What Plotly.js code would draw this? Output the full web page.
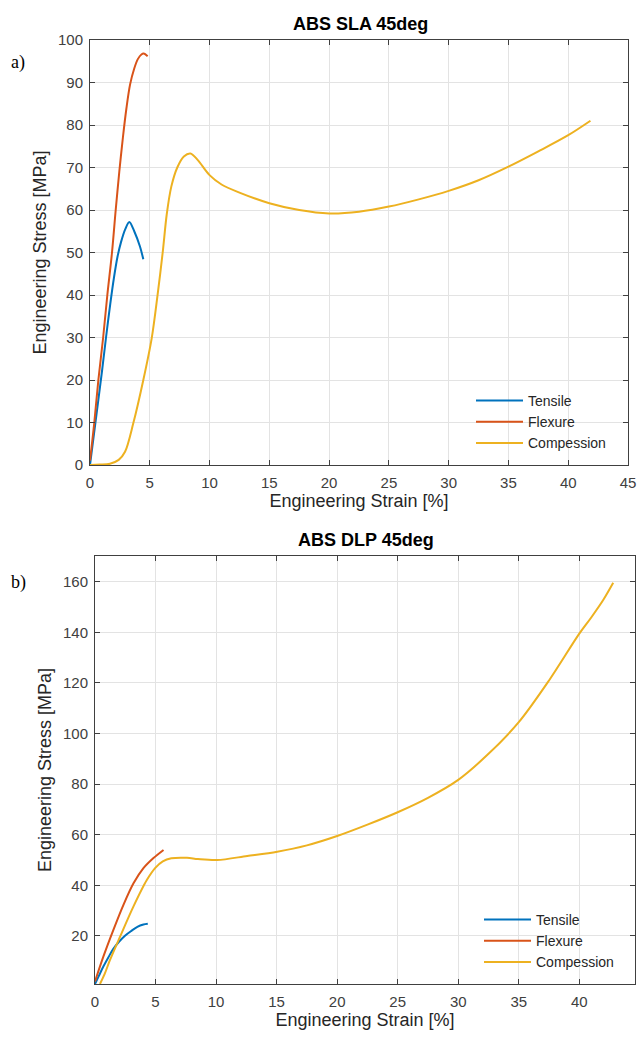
<!DOCTYPE html>
<html>
<head>
<meta charset="utf-8">
<script src="https://cdn.plot.ly/plotly-3.0.1.min.js"></script>
<style>html,body{margin:0;padding:0;background:#fff;}#chart{width:639px;height:1037px;}</style>
</head>
<body>
<div id="chart"></div>
<script>
// ---- Data: (a) ABS SLA 45deg ----
const slaTensileX = [0, 0.5, 1, 1.34, 1.7, 2.0, 2.3, 2.6, 2.95, 3.29, 3.7, 4.18, 4.46];
const slaTensileY = [0, 11, 22, 30, 38, 44, 49, 52.5, 55.5, 57.2, 55, 51.4, 48.4];
const slaFlexureX = [0, 0.36, 0.7, 1.1, 1.45, 1.84, 2.15, 2.45, 2.75, 3.05, 3.35, 3.7, 4.0, 4.3, 4.5, 4.82];
const slaFlexureY = [1, 10, 20, 30, 40, 50, 60, 69, 77, 84, 89.5, 93.3, 95.5, 96.6, 96.8, 96.2];
const slaCompX = [0, 0.8, 1.67, 2.4, 2.93, 3.62, 4.46, 5.16, 5.66, 6.08, 6.42, 6.8, 7.3, 7.85, 8.4, 9.0, 10, 11, 12.5, 15, 17.5, 20, 22.5, 25, 27.5, 30, 32.5, 35, 37.5, 40, 41.86];
const slaCompY = [0, 0.1, 0.3, 1.2, 3.1, 9.8, 20, 29.8, 40.2, 50, 59, 65.5, 70, 72.6, 73.3, 71.8, 68.2, 66, 64.1, 61.6, 60, 59.2, 59.6, 60.8, 62.5, 64.5, 67, 70.2, 73.8, 77.6, 81];

// ---- Data: (b) ABS DLP 45deg ----
const dlpTensileX = [0, 0.3, 0.7, 1.1, 1.5, 2.0, 2.5, 3.0, 3.5, 4.0, 4.36];
const dlpTensileY = [1, 4, 8, 11.5, 14.8, 17.8, 20.2, 22, 23.6, 24.5, 24.8];
const dlpFlexureX = [0, 0.69, 1.52, 2.35, 3.18, 4.0, 4.83, 5.66];
const dlpFlexureY = [2, 11.8, 22.4, 32.3, 40.8, 46.8, 50.8, 54];
const dlpCompX = [0.41, 0.8, 1.24, 2.07, 3.17, 4.28, 5.0, 5.6, 6.3, 7.6, 8.5, 10.08, 12.57, 15.05, 17.5, 20, 22.5, 25, 27.5, 30, 32.5, 35, 37.5, 40, 41, 42, 42.8];
const dlpCompY = [1, 5, 10.5, 19.7, 31.6, 42.1, 47, 49.5, 50.7, 50.9, 50.4, 50, 51.6, 53.3, 55.8, 59.5, 64, 68.9, 74.6, 81.7, 92, 104.5, 121, 139.5, 146, 153, 159.6];

const seriesNames = ['Tensile', 'Flexure', 'Compession'];
const colors = ['#0072BD', '#D95319', '#EDB120'];

const W = 639, H = 1037;
const px = v => v / W;
const py = v => 1 - v / H;

function mk(x, y, i, xa, ya, leg) {
  return {x: x, y: y, type: 'scatter', mode: 'lines', name: seriesNames[i],
    line: {color: colors[i], width: 2, shape: 'spline', smoothing: 0.9},
    xaxis: xa, yaxis: ya, legend: leg, legendgroup: leg + i, hoverinfo: 'skip'};
}

const traces = [
  mk(slaTensileX, slaTensileY, 0, 'x', 'y', 'legend'),
  mk(slaFlexureX, slaFlexureY, 1, 'x', 'y', 'legend'),
  mk(slaCompX, slaCompY, 2, 'x', 'y', 'legend'),
  mk(dlpTensileX, dlpTensileY, 0, 'x2', 'y2', 'legend2'),
  mk(dlpFlexureX, dlpFlexureY, 1, 'x2', 'y2', 'legend2'),
  mk(dlpCompX, dlpCompY, 2, 'x2', 'y2', 'legend2')
];

const FONT = '"Liberation Sans", Arial, Helvetica, sans-serif';
const tickFont = {family: FONT, size: 15, color: '#404040'};
const titleFont = {family: FONT, size: 18, color: '#262626'};

function ax(extra) {
  return Object.assign({
    showgrid: true, gridcolor: '#e3e3e3', gridwidth: 1,
    zeroline: false, showline: true, linecolor: '#404040', linewidth: 1,
    mirror: 'ticks', ticks: 'inside', ticklen: 5, tickcolor: '#404040',
    tickfont: tickFont, fixedrange: true
  }, extra);
}

const legendBase = {
  font: {family: FONT, size: 14, color: '#262626'},
  bgcolor: 'rgba(255,255,255,0)', borderwidth: 0,
  xanchor: 'left', yanchor: 'top', traceorder: 'grouped', tracegroupgap: 0,
  itemwidth: 47, itemclick: false, itemdoubleclick: false
};

const layout = {
  width: W, height: H,
  margin: {l: 0, r: 0, t: 0, b: 0},
  paper_bgcolor: '#ffffff', plot_bgcolor: '#ffffff',
  showlegend: true,
  xaxis: ax({domain: [px(90), px(628)], range: [0, 45], dtick: 5, tick0: 0, anchor: 'y',
    ticklabelstandoff: 4,
    title: {text: 'Engineering Strain [%]', font: titleFont, standoff: 2}}),
  yaxis: ax({domain: [py(465), py(40)], range: [0, 100], dtick: 10, tick0: 0, anchor: 'x',
    ticklabelstandoff: 3,
    title: {text: 'Engineering Stress [MPa]', font: titleFont, standoff: 6}}),
  xaxis2: ax({domain: [px(95), px(635)], range: [0, 44.6], dtick: 5, tick0: 0, anchor: 'y2',
    ticklabelstandoff: 4,
    title: {text: 'Engineering Strain [%]', font: titleFont, standoff: 2}}),
  yaxis2: ax({domain: [py(984), py(556)], range: [1, 170.2], dtick: 20, tick0: 0, anchor: 'x2',
    ticklabelstandoff: 3,
    title: {text: 'Engineering Stress [MPa]', font: titleFont, standoff: 6}}),
  legend: Object.assign({}, legendBase, {x: px(471), y: py(385)}),
  legend2: Object.assign({}, legendBase, {x: px(479), y: py(904)}),
  annotations: [
    {text: '<b>ABS SLA 45deg</b>', xref: 'paper', yref: 'paper', x: px(360), y: py(24),
     xanchor: 'center', yanchor: 'middle', showarrow: false,
     font: {family: FONT, size: 18, color: '#000000'}},
    {text: '<b>ABS DLP 45deg</b>', xref: 'paper', yref: 'paper', x: px(366), y: py(540),
     xanchor: 'center', yanchor: 'middle', showarrow: false,
     font: {family: FONT, size: 18, color: '#000000'}},
    {text: 'a)', xref: 'paper', yref: 'paper', x: px(9), y: py(62),
     xanchor: 'left', yanchor: 'middle', showarrow: false,
     font: {family: '"Liberation Serif", "Times New Roman", serif', size: 18, color: '#000000'}},
    {text: 'b)', xref: 'paper', yref: 'paper', x: px(9), y: py(582),
     xanchor: 'left', yanchor: 'middle', showarrow: false,
     font: {family: '"Liberation Serif", "Times New Roman", serif', size: 18, color: '#000000'}}
  ]
};

Plotly.newPlot('chart', traces, layout, {displayModeBar: false, staticPlot: true});
</script>
</body>
</html>
